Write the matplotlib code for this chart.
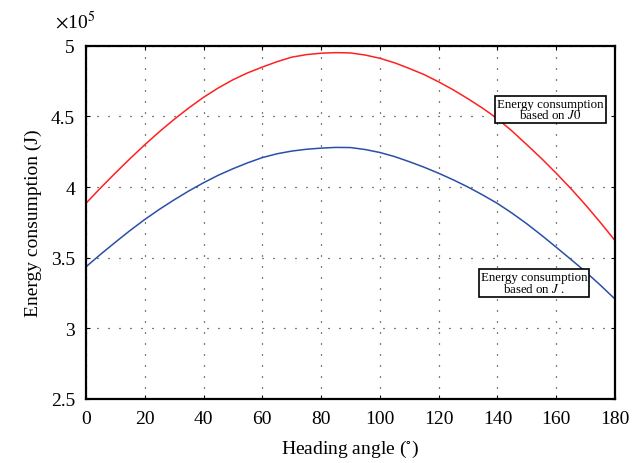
import matplotlib.pyplot as plt

# heading angle (deg) and energy consumption (x 10^5 J)
heading = [0, 5, 10, 15, 20, 25, 30, 35, 40, 45, 50, 55, 60, 65, 70, 75, 80, 85, 90,
           95, 100, 105, 110, 115, 120, 125, 130, 135, 140, 145, 150, 155, 160, 165, 170, 175, 180]
energy_j0 = [3.886, 3.995, 4.10, 4.202, 4.30, 4.393, 4.48, 4.561, 4.636, 4.702, 4.76, 4.809,
             4.85, 4.888, 4.92, 4.938, 4.948, 4.952, 4.95, 4.935, 4.912, 4.880, 4.84, 4.797,
             4.745, 4.688, 4.625, 4.558, 4.484, 4.396, 4.30, 4.202, 4.098, 3.989, 3.873, 3.750, 3.621]
energy_j = [3.436, 3.525, 3.61, 3.693, 3.771, 3.843, 3.91, 3.973, 4.031, 4.084, 4.13, 4.172,
            4.209, 4.236, 4.255, 4.268, 4.276, 4.281, 4.28, 4.266, 4.245, 4.216, 4.18, 4.141,
            4.098, 4.051, 4.00, 3.944, 3.884, 3.815, 3.74, 3.659, 3.574, 3.488, 3.40, 3.306, 3.207]

xticks = [0, 20, 40, 60, 80, 100, 120, 140, 160, 180]
yticks = [2.5, 3, 3.5, 4, 4.5, 5]
ytick_labels = ['2.5', '3', '3.5', '4', '4.5', '5']

plt.rcParams['font.family'] = ['Liberation Serif', 'DejaVu Serif']
plt.rcParams['mathtext.fontset'] = 'stix'

fig = plt.figure(figsize=(6.42, 4.64), dpi=100)
ax = fig.add_axes([0.134, 0.138, 0.824, 0.761])

ax.plot(heading, energy_j0, color='#ff2020', lw=1.1)
ax.plot(heading, energy_j, color='#2a4fa8', lw=1.1)

ax.set_xlim(0, 180)
ax.set_ylim(2.5, 5)
ax.set_xticks(xticks)
ax.set_yticks(yticks)
ax.set_yticklabels(ytick_labels)
ax.tick_params(direction='in', top=True, right=True, length=3, labelsize=14, pad=8)
ax.grid(True, color='black', linestyle=(0, (0.8, 8)), linewidth=0.9)

for s in ax.spines.values():
    s.set_linewidth(1.6)

ax.set_xlabel('Heading angle ($^{\\circ}$)', fontsize=14, labelpad=8)
ax.set_ylabel('Energy consumption (J)', fontsize=14, labelpad=6)
ax.text(-0.058, 1.04, '$\\times$10$^5$', transform=ax.transAxes, fontsize=14, ha='left', va='bottom')

box = dict(boxstyle='square,pad=0.15', facecolor='white', edgecolor='black', linewidth=1.2)
ax.text(158, 4.55, 'Energy consumption\nbased on $J0$', fontsize=9.3, ha='center', va='center',
        linespacing=0.85, bbox=box)
ax.text(152.5, 3.32, 'Energy consumption\nbased on $J$ .', fontsize=9.3, ha='center', va='center',
        linespacing=0.85, bbox=box)

fig.savefig('out.png', dpi=100)
